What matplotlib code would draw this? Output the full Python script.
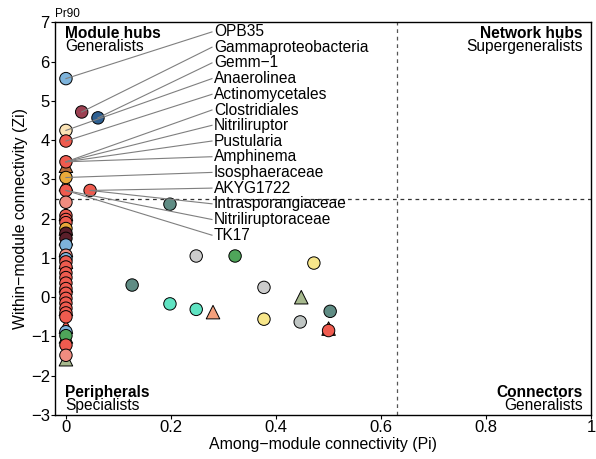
import numpy as np
import matplotlib
matplotlib.use('Agg')
import matplotlib.pyplot as plt

plt.rcParams['font.family'] = ['Liberation Sans', 'DejaVu Sans']

# Colours used by the points
RED = '#EF5B4F'
SALMON = '#F08C80'
LIGHT_BLUE = '#7DB3DB'
MAROON = '#9C4152'
DARK_BLUE = '#2E6092'
CREAM = '#FBE3B5'
BROWN = '#B5693A'
GOLD = '#E9A93A'
SAGE = '#B0C79A'
TEAL_GRAY = '#5F8C84'
LIGHT_GRAY = '#CCCCCC'
GREEN = '#4FA55A'
YELLOW = '#F7E68A'
AQUA = '#5FE3C2'
PEACH = '#F4A07C'
SAGE2 = '#A7B98E'
PALE_GRAY = '#BFC5C3'
DARK_MAROON = '#5B1F2A'

# Triangles (drawn first, behind circles)
tri_pi = [0, 0, 0, 0, 0, 0, 0, 0, 0, 0, 0, 0, 0.448, 0.28, 0.5]
tri_zi = [3.35, 2.88, 2.12, 1.75, 1.5, 1.2, 0.9, 0.3, -0.3, -0.75, -1.0, -1.58, 0.0, -0.38, -0.8]
tri_col = [BROWN, SAGE, BROWN, GOLD, DARK_MAROON, LIGHT_BLUE, RED, RED, RED, RED, GREEN, SAGE2,
           SAGE2, PEACH, BROWN]

# Circles
circ_pi = [0, 0.03, 0.061, 0, 0, 0, 0, 0, 0.046, 0,
           0, 0, 0, 0, 0, 0, 0, 0, 0,
           0, 0, 0, 0, 0, 0, 0, 0, 0, 0, 0, 0, 0, 0, 0, 0,
           0.198, 0.248, 0.322, 0.472, 0.126, 0.377, 0.198, 0.248, 0.377, 0.446, 0.503, 0.5]
circ_zi = [5.57, 4.72, 4.57, 4.25, 3.98, 3.45, 3.05, 2.72, 2.72, 2.42,
           2.08, 1.98, 1.9, 1.75, 1.63, 1.5, 1.33, 1.07, 0.98,
           0.9, 0.77, 0.62, 0.5, 0.36, 0.22, 0.1, -0.03, -0.15, -0.28, -0.4, -0.5, -0.88, -0.98, -1.22, -1.48,
           2.37, 1.05, 1.05, 0.87, 0.31, 0.25, -0.17, -0.31, -0.56, -0.63, -0.36, -0.85]
circ_col = [LIGHT_BLUE, MAROON, DARK_BLUE, CREAM, RED, RED, GOLD, RED, RED, SALMON,
            RED, RED, RED, GOLD, DARK_MAROON, DARK_MAROON, LIGHT_BLUE, SALMON, LIGHT_BLUE,
            RED, RED, RED, RED, RED, RED, RED, RED, RED, RED, RED, RED, LIGHT_BLUE, GREEN, RED, SALMON,
            TEAL_GRAY, LIGHT_GRAY, GREEN, YELLOW, TEAL_GRAY, LIGHT_GRAY, AQUA, AQUA, YELLOW, PALE_GRAY,
            TEAL_GRAY, RED]

# Labels and the point each one points to
label_names = ['OPB35', 'Gammaproteobacteria', 'Gemm\u22121', 'Anaerolinea', 'Actinomycetales',
               'Clostridiales', 'Nitriliruptor', 'Pustularia', 'Amphinema', 'Isosphaeraceae',
               'AKYG1722', 'Intrasporangiaceae', 'Nitriliruptoraceae', 'TK17']
label_y = [6.76, 6.37, 5.97, 5.57, 5.17, 4.77, 4.38, 3.98, 3.58, 3.18, 2.78, 2.38, 1.98, 1.58]
target_pi = [0, 0.03, 0.061, 0, 0, 0, 0, 0, 0, 0, 0.046, 0.046, 0, 0]
target_zi = [5.57, 4.72, 4.57, 4.25, 3.98, 3.45, 3.45, 3.45, 3.45, 3.05, 2.72, 2.72, 2.72, 2.72]

PI_CUT = 0.63
ZI_CUT = 2.5

fig = plt.figure(figsize=(5.96, 4.59), dpi=100)
ax = fig.add_axes([0.093, 0.096, 0.899, 0.855])

ax.axvline(PI_CUT, color='#555555', ls=(0, (3, 3)), lw=0.9, zorder=1)
ax.axhline(ZI_CUT, color='#333333', ls=(0, (3, 3)), lw=0.9, zorder=1)

ax.scatter(tri_pi, tri_zi, s=95, marker='^', c=tri_col, edgecolors='black', linewidths=0.7, zorder=2)
ax.scatter(circ_pi, circ_zi, s=80, marker='o', c=circ_col, edgecolors='black', linewidths=0.7, zorder=3)

# label lines and text
text_x = 0.282
for name, ly, tx, ty in zip(label_names, label_y, target_pi, target_zi):
    ax.plot([tx, text_x - 0.004], [ty, ly], color='#7f7f7f', lw=0.8, zorder=4)
    ax.text(text_x, ly, name, fontsize=11.2, va='center', ha='left', zorder=5)

# quadrant names
qs = 11.2
ax.text(-0.002, 6.73, 'Module hubs', fontsize=qs, fontweight='bold', ha='left', va='center')
ax.text(-0.002, 6.38, 'Generalists', fontsize=qs, ha='left', va='center')
ax.text(0.984, 6.73, 'Network hubs', fontsize=qs, fontweight='bold', ha='right', va='center')
ax.text(0.984, 6.38, 'Supergeneralists', fontsize=qs, ha='right', va='center')
ax.text(-0.002, -2.42, 'Peripherals', fontsize=qs, fontweight='bold', ha='left', va='center')
ax.text(-0.002, -2.77, 'Specialists', fontsize=qs, ha='left', va='center')
ax.text(0.984, -2.42, 'Connectors', fontsize=qs, fontweight='bold', ha='right', va='center')
ax.text(0.984, -2.77, 'Generalists', fontsize=qs, ha='right', va='center')

ax.set_xlim(-0.02, 1.0)
ax.set_ylim(-3, 7)
ax.set_xticks([0, 0.2, 0.4, 0.6, 0.8, 1])
ax.set_xticklabels(['0', '0.2', '0.4', '0.6', '0.8', '1'])
ax.set_yticks(range(-3, 8))
ax.set_yticklabels([str(v).replace('-', '\u2212') for v in range(-3, 8)])
ax.tick_params(labelsize=12, length=3, width=0.8, pad=1)
for sp in ax.spines.values():
    sp.set_linewidth(1.0)

ax.set_xlabel('Among\u2212module connectivity (Pi)', fontsize=11.4, labelpad=1)
ax.set_ylabel('Within\u2212module connectivity (Zi)', fontsize=11.4, labelpad=2)
ax.set_title('Pr90', fontsize=8.5, loc='left', x=0.0, pad=4)

fig.savefig('out.png', dpi=100)
